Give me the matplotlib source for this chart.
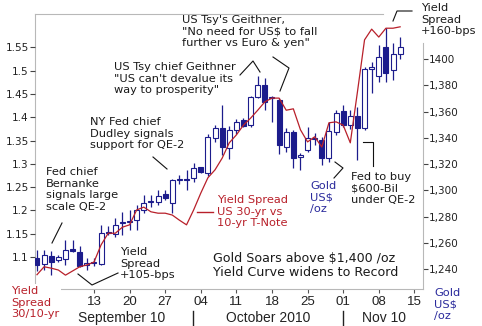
import matplotlib
matplotlib.use('Agg')
import matplotlib.pyplot as plt
from matplotlib.patches import Rectangle
from matplotlib.lines import Line2D

# ---------------- data ----------------
trading_days = ['Aug 31', 'Sep 01', 'Sep 02', 'Sep 03', 'Sep 07', 'Sep 08', 'Sep 09', 'Sep 10',
                'Sep 13', 'Sep 14', 'Sep 15', 'Sep 16', 'Sep 17', 'Sep 20', 'Sep 21', 'Sep 22',
                'Sep 23', 'Sep 24', 'Sep 27', 'Sep 28', 'Sep 29', 'Sep 30', 'Oct 01', 'Oct 04',
                'Oct 05', 'Oct 06', 'Oct 07', 'Oct 08', 'Oct 11', 'Oct 12', 'Oct 13', 'Oct 14',
                'Oct 15', 'Oct 18', 'Oct 19', 'Oct 20', 'Oct 21', 'Oct 22', 'Oct 25', 'Oct 26',
                'Oct 27', 'Oct 28', 'Oct 29', 'Nov 01', 'Nov 02', 'Nov 03', 'Nov 04', 'Nov 05',
                'Nov 08', 'Nov 09', 'Nov 10', 'Nov 11', 'Nov 12', 'Nov 15']

gold_open = [1248.4, 1243.8, 1250.0, 1246.9, 1247.6, 1254.5, 1253.0, 1243.0,
             1244.6, 1243.8, 1268.5, 1266.7, 1275.0, 1275.8, 1277.3, 1285.0,
             1290.8, 1291.0, 1297.0, 1290.3, 1308.0, 1308.6, 1309.3, 1317.7,
             1313.0, 1339.8, 1347.4, 1332.0, 1346.0, 1353.5, 1350.0, 1371.0,
             1380.0, 1370.0, 1368.8, 1333.0, 1344.4, 1325.0, 1330.7, 1339.0,
             1338.3, 1324.6, 1344.4, 1360.4, 1349.7, 1356.6, 1347.4, 1392.4,
             1387.0, 1409.0, 1391.6, 1403.8]
gold_high = [1254.5, 1254.5, 1253.7, 1250.7, 1262.0, 1262.0, 1257.5, 1248.4,
             1248.4, 1273.5, 1272.8, 1278.9, 1283.4, 1285.0, 1288.8, 1296.4,
             1296.4, 1300.2, 1300.0, 1308.6, 1311.6, 1315.4, 1320.8, 1317.7,
             1343.0, 1350.0, 1365.0, 1349.0, 1354.0, 1355.0, 1372.0, 1387.0,
             1385.5, 1372.0, 1370.0, 1347.4, 1346.0, 1328.4, 1348.0, 1343.6,
             1340.6, 1352.0, 1361.0, 1365.0, 1361.0, 1363.4, 1394.0, 1397.7,
             1410.7, 1423.6, 1412.0, 1416.8]
gold_low = [1238.5, 1239.2, 1235.4, 1245.3, 1243.0, 1253.0, 1241.5, 1239.2,
            1242.3, 1243.0, 1266.0, 1264.4, 1266.0, 1269.7, 1269.7, 1282.7,
            1287.2, 1288.8, 1292.6, 1282.7, 1304.8, 1300.2, 1306.3, 1313.0,
            1311.0, 1337.0, 1327.0, 1324.0, 1343.0, 1348.0, 1348.5, 1370.0,
            1361.0, 1352.0, 1328.0, 1329.0, 1317.0, 1315.4, 1329.0, 1334.5,
            1319.0, 1321.5, 1342.0, 1348.0, 1347.0, 1323.0, 1346.0, 1374.0,
            1382.5, 1382.5, 1384.0, 1400.0]
gold_close = [1243.0, 1250.7, 1245.3, 1249.1, 1254.5, 1254.0, 1242.3, 1244.6,
              1245.0, 1267.4, 1267.4, 1273.5, 1275.0, 1276.0, 1285.0, 1290.3,
              1291.0, 1295.6, 1294.0, 1307.8, 1308.6, 1308.0, 1317.0, 1314.0,
              1340.6, 1347.4, 1333.0, 1346.0, 1352.0, 1349.0, 1371.0, 1380.0,
              1367.0, 1370.5, 1334.5, 1344.4, 1324.6, 1326.9, 1339.8, 1339.0,
              1324.6, 1345.0, 1358.9, 1349.7, 1356.6, 1347.4, 1392.4, 1394.0,
              1401.5, 1389.0, 1403.8, 1409.0]

yield_spread = [1.062, 1.079, 1.076, 1.072, 1.061, 1.070, 1.079, 1.083,
                1.089, 1.126, 1.151, 1.151, 1.164, 1.169, 1.201, 1.207,
                1.197, 1.194, 1.194, 1.190, 1.179, 1.169, 1.201, 1.237,
                1.270, 1.287, 1.312, 1.345, 1.362, 1.383, 1.398, 1.415,
                1.433, 1.441, 1.441, 1.415, 1.418, 1.373, 1.347, 1.358,
                1.336, 1.388, 1.390, 1.383, 1.345, 1.454, 1.566, 1.589,
                1.572, 1.591, 1.591, 1.594]

tick_days = ['Sep 13', 'Sep 20', 'Sep 27', 'Oct 04', 'Oct 11', 'Oct 18', 'Oct 25',
             'Nov 01', 'Nov 08', 'Nov 15']
tick_labels = ['13', '20', '27', '04', '11', '18', '25', '01', '08', '15']
month_labels = ['September 10', 'October 2010', 'Nov 10']
gold_ticks = [1240, 1260, 1280, 1300, 1320, 1340, 1360, 1380, 1400]
gold_tick_labels = ['1,240', '1,260', '1,280', '1,300', '1,320', '1,340', '1,360', '1,380', '1400']
spread_ticks = [1.1, 1.15, 1.2, 1.25, 1.3, 1.35, 1.4, 1.45, 1.5, 1.55]
spread_tick_labels = ['1.1', '1.15', '1.2', '1.25', '1.3', '1.35', '1.4', '1.45', '1.5', '1.55']

# ---------------- figure ----------------
W, H = 482, 326
fig = plt.figure(figsize=(W / 100, H / 100), dpi=100)
fig.patch.set_facecolor('white')

L, R, T, B = 35, 423, 14, 289
ax = fig.add_axes([L / W, 1 - B / H, (R - L) / W, (B - T) / H])
ax2 = ax.twinx()

NAVY = '#1c1c8c'
RED = '#b8202a'
BLUE = '#2a2a9c'
TXT = '#1a1a1a'
SPINE = '#b8b8b8'

# candles on host axis (gold, right ticks)
n = len(gold_open)
bw = 0.7
for i in range(n):
    o, h, l, c = gold_open[i], gold_high[i], gold_low[i], gold_close[i]
    ax.plot([i, i], [l, h], color=NAVY, lw=0.9, zorder=2, solid_capstyle='butt')
    lo, hi = min(o, c), max(o, c)
    ht = max(hi - lo, 0.9)
    up = c >= o
    ax.add_patch(Rectangle((i - bw / 2, lo), bw, ht,
                           facecolor='white' if up else NAVY,
                           edgecolor=NAVY, lw=0.8, zorder=3))

ax.set_xlim(-0.28, 54.21)
ax.set_ylim(1224.8, 1434.3)
ax.yaxis.tick_right()
ax.yaxis.set_label_position('right')
ax.set_yticks(gold_ticks)
ax.set_yticklabels(gold_tick_labels)
ax.tick_params(axis='y', right=True, left=False, direction='out', length=3.5, width=0.8,
               color='#444444', labelsize=7.5, labelcolor='#222222', pad=1)

tick_pos = [trading_days.index(d) for d in tick_days]
ax.set_xticks(tick_pos)
ax.set_xticklabels(tick_labels, fontfamily='Liberation Sans', fontsize=9.5)
ax.tick_params(axis='x', direction='out', length=3, width=0.8, color='#555555',
               labelcolor='#222222', pad=2)

for side in ['left', 'bottom']:
    ax.spines[side].set_color(SPINE)
    ax.spines[side].set_linewidth(0.8)
ax.spines['top'].set_visible(False)
ax.spines['right'].set_visible(False)

# yield spread on twin axis (left ticks)
ax2.plot(range(len(yield_spread)), yield_spread, color=RED, lw=0.9, zorder=5)
ax2.set_ylim(1.0313, 1.6215)
ax2.yaxis.tick_left()
ax2.set_yticks(spread_ticks)
ax2.set_yticklabels(spread_tick_labels)
ax2.tick_params(axis='y', left=True, right=False, direction='out', length=3.5, width=0.8,
                color='#444444', labelsize=7.5, labelcolor='#222222', pad=1)
for s in ax2.spines.values():
    s.set_visible(False)


def ftxt(x, y, s, color=TXT, size=8.2, box=False, ls=1.2, **kw):
    t = fig.text(x / W, 1 - y / H, s, color=color, fontsize=size, va='top', ha='left',
                 linespacing=ls, fontfamily='DejaVu Sans', **kw)
    if box:
        t.set_bbox(dict(facecolor='white', edgecolor='none', pad=1.5))
    return t


def fline(xs, ys, color='#111111', lw=0.8):
    fig.add_artist(Line2D([x / W for x in xs], [1 - y / H for y in ys], color=color, lw=lw))


# partial frame (top and right) as in the reference
fline([L, 383], [T, T], color=SPINE, lw=0.8)
fline([R, R], [43, B], color=SPINE, lw=0.8)

ftxt(182, 15, 'US Tsy\'s Geithner,\n"No need for US$ to fall\nfurther vs Euro & yen"')
ftxt(114, 62, 'US Tsy chief Geithner\n"US can\'t devalue its\nway to prosperity"')
ftxt(90, 117, 'NY Fed chief\nDudley signals\nsupport for QE-2')
ftxt(46, 167, 'Fed chief\nBernanke\nsignals large\nscale QE-2')
ftxt(120, 247, 'Yield\nSpread\n+105-bps')
ftxt(217, 195, 'Yield Spread\nUS 30-yr vs\n10-yr T-Note', color=RED)
ftxt(310, 181, 'Gold\nUS$\n/oz', color=BLUE)
ftxt(351, 172, 'Fed to buy\n$600-Bil\nunder QE-2')
ftxt(213, 252, 'Gold Soars above $1,400 /oz\nYield Curve widens to Record', size=9.1, ls=1.05)
ftxt(421, 3, 'Yield\nSpread\n+160-bps', box=True)
ftxt(11, 286, 'Yield\nSpread\n30/10-yr', color=RED, box=True)
ftxt(434, 288, 'Gold\nUS$\n/oz', color=BLUE)

# annotation connector lines
fline([62, 52], [223, 243])
fline([153, 167], [157, 169])
fline([240, 253, 260], [75, 61, 72])
fline([273, 289, 280], [57, 68, 91])
fline([78, 92, 118], [274, 285, 273])
fline([393, 397, 412], [21, 11, 11])
fline([363, 373, 373], [142, 142, 166])
fline([335, 343, 334], [162, 168, 178])
fline([197, 213], [212, 212], color=RED, lw=1.0)

# month row
for label, cx in zip(month_labels, [122, 268, 384]):
    fig.text(cx / W, 1 - 318 / H, label, ha='center', va='center', fontsize=10,
             fontfamily='Liberation Sans', color='#222222')
fline([193, 193], [311, 325], color='#222222', lw=1.0)
fline([343, 343], [311, 325], color='#222222', lw=1.0)

fig.savefig('out.png', dpi=100, facecolor='white')
